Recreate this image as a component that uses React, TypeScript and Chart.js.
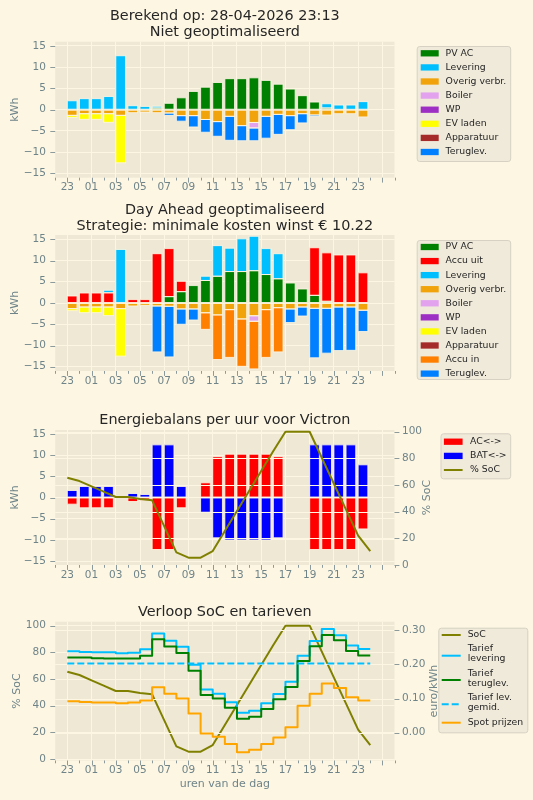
import { useEffect, useRef } from 'react';
import { Chart, registerables } from 'chart.js';

Chart.register(...registerables);

const FONT = "'DejaVu Sans', 'Liberation Sans', sans-serif";
const FIG_BG = '#fdf6e3';
const AXES_BG = '#eee8d5';
const GRID = '#fdf6e3';
const TICK_TEXT = '#6f8489';
const TICK_MARK = '#8d9a9b';
const DARK_TEXT = '#262626';
const LEGEND_BG = '#f0eada';
const LEGEND_EDGE = '#d6d1c3';
const WIDTH = 533;

// hour slots: 23:00 the evening before up to and including 23:00
const hours = ['23', '00', '01', '02', '03', '04', '05', '06', '07', '08', '09', '10', '11', '12', '13', '14', '15', '16', '17', '18', '19', '20', '21', '22', '23'];

// ---- Niet geoptimaliseerd (kWh per uur)
const pvAcBase = [0, 0, 0, 0, 0, 0, 0, 0.4, 1.5, 2.8, 4.3, 5.3, 6.4, 7.3, 7.3, 7.5, 6.9, 6.0, 4.85, 3.3, 1.8, 0.4, 0.1, 0.1, 0];
const leveringBase = [2.1, 2.6, 2.6, 3.1, 12.7, 0.94, 0.78, 0.4, 0, 0, 0, 0, 0, 0, 0, 0, 0, 0, 0, 0, 0, 1.0, 1.0, 1.0, 1.9];
const teruglevBase = [0, 0, 0, 0, 0, 0, 0, 0, -0.55, -1.3, -2.66, -3.0, -3.45, -5.64, -3.55, -3.0, -5.14, -4.7, -3.3, -2.16, -0.35, 0, 0, 0, 0];

// consumption (same in both scenarios)
const overigVerbr = [-1.33, -0.94, -0.94, -0.94, -1.33, -0.7, -0.55, -0.7, -0.78, -1.4, -1.4, -2.3, -2.8, -1.56, -3.75, -3.0, -1.56, -1.1, -1.4, -0.94, -1.25, -1.25, -0.94, -0.94, -1.7];
const boiler = [0, 0, 0, 0, 0, 0, 0, 0, 0, 0, 0, 0, 0, 0, 0, -1.3, 0, 0, 0, 0, 0, 0, 0, 0, 0];
const wp = [0, 0, 0, 0, 0, 0, 0, 0, 0, 0, 0, 0, 0, 0, 0, 0, 0, 0, 0, 0, 0, 0, 0, 0, 0];
const evLaden = [-0.47, -1.33, -1.33, -2.03, -11.17, 0, 0, 0, 0, 0, 0, 0, 0, 0, 0, 0, 0, 0, 0, 0, 0, 0, 0, 0, 0];
const apparatuur = [0, 0, 0, 0, 0, 0, 0, 0, 0, 0, 0, 0, 0, 0, 0, 0, 0, 0, 0, 0, 0, 0, 0, 0, 0];

// ---- Day Ahead geoptimaliseerd (kWh per uur)
const pvAcOpt = [0, 0, 0, 0, 0, 0, 0, 0.1, 1.5, 2.67, 4.1, 5.3, 6.3, 7.4, 7.4, 7.6, 6.7, 5.7, 4.7, 3.3, 1.8, 0.4, 0, 0, 0];
const accuUit = [1.65, 2.35, 2.35, 2.4, 0, 0.8, 0.8, 11.5, 11.3, 2.43, 0, 0, 0, 0, 0, 0, 0, 0, 0, 0, 11.2, 11.4, 11.3, 11.3, 7.1];
const leveringOpt = [0, 0, 0, 0.6, 12.6, 0, 0, 0, 0, 0, 0, 1.0, 7.2, 5.5, 7.7, 8.1, 6.1, 5.9, 0, 0, 0, 0, 0, 0, 0];
const accuIn = [0, 0, 0, 0, 0, 0, 0, 0, 0, 0, 0, -3.9, -10.5, -11.24, -11.15, -11.2, -11.24, -10.4, 0, 0, 0, 0, 0, 0, 0];
const teruglevOpt = [0, 0, 0, 0, 0, 0, 0, -10.8, -11.9, -3.6, -2.6, 0, 0, 0, 0, 0, 0, 0, -3.2, -2.12, -11.65, -10.55, -10.26, -10.2, -5.0];

// ---- Energiebalans Victron (kWh per uur) en SoC (%)
const acBalans = [-1.57, -2.43, -2.43, -2.43, 0, -0.94, -0.7, -12.25, -12.25, -2.43, 0, 3.46, 9.6, 10.2, 10.2, 10.2, 10.2, 9.6, 0, 0, -12.25, -12.25, -12.25, -12.25, -7.4];
const batBalans = [1.65, 2.6, 2.6, 2.6, 0, 0.94, 0.7, 12.4, 12.4, 2.6, 0, -3.46, -9.5, -10.0, -10.0, -10.0, -10.0, -9.5, 0, 0, 12.4, 12.4, 12.4, 12.4, 7.7];
const socPct = [65.5, 63, 59, 55, 51, 51, 49.5, 48.5, 29, 9.5, 5.5, 5.5, 10.5, 25.5, 40.5, 55.5, 70.5, 85.5, 100, 100, 100, 80.5, 61, 41.5, 22, 10.5];

// ---- Tarieven (euro/kWh)
const tariefLevering = [0.238, 0.236, 0.235, 0.235, 0.232, 0.234, 0.244, 0.290, 0.269, 0.251, 0.199, 0.126, 0.114, 0.089, 0.058, 0.064, 0.086, 0.113, 0.149, 0.225, 0.268, 0.303, 0.285, 0.255, 0.245];
const tariefTeruglev = [0.220, 0.220, 0.218, 0.217, 0.217, 0.217, 0.225, 0.273, 0.252, 0.233, 0.181, 0.110, 0.100, 0.073, 0.041, 0.047, 0.069, 0.098, 0.134, 0.210, 0.253, 0.286, 0.270, 0.239, 0.226];
const tariefLevGemid = 0.202;
const spotPrijzen = [0.092, 0.090, 0.088, 0.088, 0.086, 0.088, 0.094, 0.133, 0.114, 0.100, 0.056, -0.002, -0.012, -0.033, -0.057, -0.050, -0.033, -0.014, 0.016, 0.079, 0.114, 0.144, 0.131, 0.104, 0.094];

// axis ticks
const kwhTicks = [-15, -10, -5, 0, 5, 10, 15];
const socTicks = [0, 20, 40, 60, 80, 100];
const priceTicks = [0, 0.1, 0.2, 0.3];
const xTicks = Array.from({ length: 29 }, (_, i) => i - 1);

const xTickLabel = (v: number) => (v >= 0 && v < hours.length && v % 2 === 0 ? hours[v] : '');
const kwhFmt = (v: number) => (v < 0 ? '\u2212' + Math.abs(v) : String(v));
const intFmt = (v: number) => String(Math.round(v));
const priceFmt = (v: number) => v.toFixed(2);

// bars start on the hour and are 0.8 h wide: centre them 0.4 h later
const BAR_SHIFT = 0.4;

interface AxisSpec { min: number; max: number; ticks: number[]; fmt: (v: number) => string; label: string; labelX: number; stacked?: boolean }
interface LegendSpec { box: [number, number, number, number]; handleX: number; handleW: number; textX: number; rows: number[]; handleRows?: number[]; lineGap: number }
interface PanelSpec {
  top: number; height: number;
  axes: [number, number, number, number];
  titles: string[]; titleBaselines: number[];
  yLeft: AxisSpec; yRight?: AxisSpec;
  xLabel?: { text: string; y: number };
  legend: LegendSpec;
  overlayBefore?: number;
  type: 'bar' | 'line';
}

const barSet = (label: string, values: number[], color: string) => ({
  type: 'bar', label,
  data: values.map((v, i) => ({ x: i + BAR_SHIFT, y: v })),
  backgroundColor: color, borderWidth: 0,
  barPercentage: 0.8, categoryPercentage: 1, order: 2, yAxisID: 'y',
});

const lineSet = (label: string, points: { x: number; y: number }[], color: string, yAxisID: string, extra: any = {}) => ({
  type: 'line', label, data: points,
  borderColor: color, backgroundColor: color, borderWidth: 2,
  pointRadius: 0, pointHoverRadius: 0, fill: false, tension: 0,
  borderJoinStyle: 'round', yAxisID, ...extra,
});

const toPoints = (values: number[]) => values.map((v, i) => ({ x: i, y: v }));
// post-step series: each value holds for its whole hour
const toSteps = (values: number[]) => [...toPoints(values), { x: values.length, y: values[values.length - 1] }];

function makeDecor(spec: PanelSpec) {
  const cy = (y: number) => y - spec.top;

  const overlay = (chart: any) => {
    const { ctx, chartArea: a } = chart;
    ctx.save();
    ctx.lineWidth = 1;
    ctx.strokeStyle = 'rgba(253,246,227,0.85)';
    chart.data.datasets.forEach((_: any, i: number) => {
      const meta = chart.getDatasetMeta(i);
      if (meta.type !== 'bar') return;
      meta.data.forEach((el: any) => {
        const h = Math.abs(el.base - el.y);
        if (h < 0.3) return;
        ctx.strokeRect(el.x - el.width / 2, Math.min(el.y, el.base), el.width, h);
      });
    });
    if (spec.yRight) {
      const s = chart.scales.y1;
      ctx.strokeStyle = GRID;
      spec.yRight.ticks.forEach((v) => {
        const py = Math.round(s.getPixelForValue(v)) + 0.5;
        ctx.beginPath();
        ctx.moveTo(a.left, py);
        ctx.lineTo(a.right, py);
        ctx.stroke();
      });
    }
    ctx.restore();
  };

  return {
    id: 'decor',
    beforeDraw(chart: any) {
      const { ctx, chartArea: a } = chart;
      ctx.save();
      ctx.fillStyle = AXES_BG;
      ctx.fillRect(a.left, a.top, a.right - a.left, a.bottom - a.top);
      ctx.restore();
    },
    beforeDatasetDraw(chart: any, args: any) {
      if (spec.overlayBefore !== undefined && args.index === spec.overlayBefore) overlay(chart);
    },
    afterDatasetsDraw(chart: any) {
      if (spec.overlayBefore === undefined) overlay(chart);
    },
    afterDraw(chart: any) {
      const { ctx, chartArea: a } = chart;
      const xs = chart.scales.x;
      const ys = chart.scales.y;
      ctx.save();

      // tick marks
      ctx.strokeStyle = TICK_MARK;
      ctx.lineWidth = 1;
      const seg = (x1: number, y1: number, x2: number, y2: number) => {
        ctx.beginPath(); ctx.moveTo(x1, y1); ctx.lineTo(x2, y2); ctx.stroke();
      };
      xTicks.forEach((v) => {
        const px = Math.round(xs.getPixelForValue(v)) + 0.5;
        seg(px, a.bottom, px, a.bottom + (v % 2 === 0 ? 4.9 : 2.8));
      });
      spec.yLeft.ticks.forEach((v) => {
        const py = Math.round(ys.getPixelForValue(v)) + 0.5;
        seg(a.left - 4.9, py, a.left, py);
      });
      if (spec.yRight) {
        const s = chart.scales.y1;
        spec.yRight.ticks.forEach((v) => {
          const py = Math.round(s.getPixelForValue(v)) + 0.5;
          seg(a.right, py, a.right + 4.9, py);
        });
      }

      // titles
      const cx = (a.left + a.right) / 2;
      ctx.fillStyle = DARK_TEXT;
      ctx.font = `14.4px ${FONT}`;
      ctx.textAlign = 'center';
      ctx.textBaseline = 'alphabetic';
      spec.titles.forEach((t, i) => ctx.fillText(t, cx, cy(spec.titleBaselines[i])));

      // axis labels
      ctx.fillStyle = TICK_TEXT;
      ctx.font = `11px ${FONT}`;
      const vlabel = (text: string, x: number) => {
        ctx.save();
        ctx.translate(x, (a.top + a.bottom) / 2);
        ctx.rotate(-Math.PI / 2);
        ctx.textAlign = 'center';
        ctx.textBaseline = 'middle';
        ctx.fillText(text, 0, 0);
        ctx.restore();
      };
      vlabel(spec.yLeft.label, spec.yLeft.labelX);
      if (spec.yRight) vlabel(spec.yRight.label, spec.yRight.labelX);
      if (spec.xLabel) {
        ctx.textAlign = 'center';
        ctx.textBaseline = 'alphabetic';
        ctx.fillText(spec.xLabel.text, cx, cy(spec.xLabel.y));
      }

      // legend
      const lg = spec.legend;
      const [l, t, r, b] = lg.box;
      const rad = 2.5;
      const bx = l + 0.5, by = cy(t) + 0.5, bw = r - l, bh = b - t;
      ctx.beginPath();
      ctx.moveTo(bx + rad, by);
      ctx.lineTo(bx + bw - rad, by);
      ctx.quadraticCurveTo(bx + bw, by, bx + bw, by + rad);
      ctx.lineTo(bx + bw, by + bh - rad);
      ctx.quadraticCurveTo(bx + bw, by + bh, bx + bw - rad, by + bh);
      ctx.lineTo(bx + rad, by + bh);
      ctx.quadraticCurveTo(bx, by + bh, bx, by + bh - rad);
      ctx.lineTo(bx, by + rad);
      ctx.quadraticCurveTo(bx, by, bx + rad, by);
      ctx.closePath();
      ctx.fillStyle = LEGEND_BG;
      ctx.fill();
      ctx.strokeStyle = LEGEND_EDGE;
      ctx.lineWidth = 1;
      ctx.stroke();

      ctx.font = `9.3px ${FONT}`;
      ctx.textAlign = 'left';
      ctx.textBaseline = 'middle';
      chart.data.datasets.forEach((ds: any, i: number) => {
        const ty = lg.rows[i];
        const hy = cy(lg.handleRows ? lg.handleRows[i] : ty);
        if (ds.type === 'line') {
          ctx.save();
          ctx.strokeStyle = ds.borderColor;
          ctx.lineWidth = 2;
          ctx.setLineDash(ds.borderDash || []);
          ctx.beginPath();
          ctx.moveTo(lg.handleX, hy);
          ctx.lineTo(lg.handleX + lg.handleW, hy);
          ctx.stroke();
          ctx.restore();
        } else {
          ctx.fillStyle = ds.backgroundColor;
          ctx.fillRect(lg.handleX, hy - 3.15, lg.handleW, 6.3);
        }
        ctx.fillStyle = DARK_TEXT;
        String(ds.label).split('\n').forEach((line, k) => ctx.fillText(line, lg.textX, cy(ty + k * lg.lineGap)));
      });

      ctx.restore();
    },
  };
}

function buildConfig(spec: PanelSpec, datasets: any[]): any {
  const [axL, axT, axR, axB] = spec.axes;
  const yScale = (ax: AxisSpec, pos: 'left' | 'right') => ({
    type: 'linear', position: pos, min: ax.min, max: ax.max, stacked: !!ax.stacked,
    afterBuildTicks: (s: any) => { s.ticks = ax.ticks.map((v) => ({ value: v })); },
    afterFit: (s: any) => { s.width = pos === 'left' ? axL : WIDTH - axR; },
    grid: pos === 'left'
      ? { display: true, drawOnChartArea: true, drawTicks: false, color: GRID, lineWidth: 1 }
      : { display: false, drawTicks: false },
    border: { display: false },
    ticks: { padding: pos === 'left' ? 9.3 : 7.5, color: TICK_TEXT, font: { family: FONT, size: 10.5 }, callback: (v: any) => ax.fmt(Number(v)) },
  });
  const scales: any = {
    x: {
      type: 'linear', position: 'bottom', min: -1, max: 27, offset: false, stacked: true,
      afterBuildTicks: (s: any) => { s.ticks = xTicks.map((v) => ({ value: v })); },
      afterFit: (s: any) => { s.height = spec.top + spec.height - axB; },
      grid: {
        offset: false, drawTicks: false, lineWidth: 1,
        color: (c: any) => (c.tick && c.tick.value % 2 === 0 ? GRID : 'rgba(0,0,0,0)'),
      },
      border: { display: false },
      ticks: {
        autoSkip: false, maxRotation: 0, minRotation: 0, padding: 3.5,
        color: TICK_TEXT, font: { family: FONT, size: 10.5 },
        callback: (v: any) => xTickLabel(Number(v)),
      },
    },
    y: yScale(spec.yLeft, 'left'),
  };
  if (spec.yRight) scales.y1 = yScale(spec.yRight, 'right');

  return {
    type: spec.type,
    data: { datasets },
    options: {
      responsive: false, maintainAspectRatio: false, animation: false, devicePixelRatio: 1,
      events: [],
      layout: { padding: { top: axT - spec.top, left: 0, right: spec.yRight ? 0 : WIDTH - axR, bottom: 0 } },
      plugins: { legend: { display: false }, title: { display: false }, tooltip: { enabled: false } },
      scales,
    },
    plugins: [makeDecor(spec)],
  };
}

const AX_L = 55.2;
const AX_R = 394.5;

const panel1: PanelSpec = {
  type: 'bar', top: 0, height: 200, axes: [AX_L, 41.7, AX_R, 177.7],
  titles: ['Berekend op: 28-04-2026 23:13', 'Niet geoptimaliseerd'], titleBaselines: [20.3, 36.3],
  yLeft: { min: -16, max: 16, ticks: kwhTicks, fmt: kwhFmt, label: 'kWh', labelX: 15.3, stacked: true },
  legend: { box: [416.7, 46, 510.2, 161], handleX: 420.7, handleW: 18, textX: 445.6, rows: [0, 1, 2, 3, 4, 5, 6, 7].map((i) => 53.3 + 14.1 * i), lineGap: 10 },
};

const panel2: PanelSpec = {
  type: 'bar', top: 195, height: 195, axes: [AX_L, 235, AX_R, 371],
  titles: ['Day Ahead geoptimaliseerd', 'Strategie: minimale kosten winst € 10.22'], titleBaselines: [213.7, 229.7],
  yLeft: { min: -16, max: 16, ticks: kwhTicks, fmt: kwhFmt, label: 'kWh', labelX: 15.3, stacked: true },
  legend: { box: [416.7, 240, 510.2, 379], handleX: 420.7, handleW: 18, textX: 445.6, rows: [0, 1, 2, 3, 4, 5, 6, 7, 8, 9].map((i) => 247 + 14.07 * i), lineGap: 10 },
};

const panel3: PanelSpec = {
  type: 'bar', top: 395, height: 190, axes: [AX_L, 430, AX_R, 565],
  titles: ['Energiebalans per uur voor Victron'], titleBaselines: [423.5],
  yLeft: { min: -15.9, max: 15.9, ticks: kwhTicks, fmt: kwhFmt, label: 'kWh', labelX: 15.3, stacked: true },
  yRight: { min: 0, max: 101.3, ticks: socTicks, fmt: intFmt, label: '% SoC', labelX: 427 },
  legend: { box: [440.5, 433.3, 510.2, 478.3], handleX: 443.9, handleW: 18.7, textX: 470, rows: [441.7, 455.9, 470], lineGap: 10 },
  overlayBefore: 2,
};

const panel4: PanelSpec = {
  type: 'line', top: 590, height: 210, axes: [AX_L, 621.7, AX_R, 760.5],
  titles: ['Verloop SoC en tarieven'], titleBaselines: [616.3],
  yLeft: { min: -1.1, max: 103, ticks: socTicks, fmt: intFmt, label: '% SoC', labelX: 17 },
  yRight: { min: -0.0813, max: 0.3246, ticks: priceTicks, fmt: priceFmt, label: 'euro/kWh', labelX: 434 },
  xLabel: { text: 'uren van de dag', y: 787 },
  legend: {
    box: [438.3, 627.7, 527.3, 732.3], handleX: 441.7, handleW: 19, textX: 467.7,
    rows: [635, 648.3, 673.3, 697.7, 722.7], handleRows: [635, 655.7, 680, 704.3, 722.7], lineGap: 10,
  },
  overlayBefore: 1,
};

const datasets1 = [
  barSet('PV AC', pvAcBase, '#008000'),
  barSet('Levering', leveringBase, '#00bfff'),
  barSet('Overig verbr.', overigVerbr, '#f0a30a'),
  barSet('Boiler', boiler, '#e2a2ee'),
  barSet('WP', wp, '#9d2fc4'),
  barSet('EV laden', evLaden, '#ffff00'),
  barSet('Apparatuur', apparatuur, '#a52a2a'),
  barSet('Teruglev.', teruglevBase, '#0080ff'),
];

const datasets2 = [
  barSet('PV AC', pvAcOpt, '#008000'),
  barSet('Accu uit', accuUit, '#ff0000'),
  barSet('Levering', leveringOpt, '#00bfff'),
  barSet('Overig verbr.', overigVerbr, '#f0a30a'),
  barSet('Boiler', boiler, '#e2a2ee'),
  barSet('WP', wp, '#9d2fc4'),
  barSet('EV laden', evLaden, '#ffff00'),
  barSet('Apparatuur', apparatuur, '#a52a2a'),
  barSet('Accu in', accuIn, '#ff8000'),
  barSet('Teruglev.', teruglevOpt, '#0080ff'),
];

const datasets3 = [
  barSet('AC<->', acBalans, '#ff0000'),
  barSet('BAT<->', batBalans, '#0000ff'),
  lineSet('% SoC', toPoints(socPct), '#808000', 'y1', { order: 1 }),
];

const datasets4 = [
  lineSet('SoC', toPoints(socPct), '#808000', 'y', { order: 5 }),
  lineSet('Tarief\nlevering', toSteps(tariefLevering), '#00bfff', 'y1', { order: 4, stepped: 'before' }),
  lineSet('Tarief\nteruglev.', toSteps(tariefTeruglev), '#008000', 'y1', { order: 3, stepped: 'before' }),
  lineSet('Tarief lev.\ngemid.', [{ x: 0, y: tariefLevGemid }, { x: hours.length, y: tariefLevGemid }], '#00bfff', 'y1', { order: 2, borderDash: [7, 3], borderCapStyle: 'butt' }),
  lineSet('Spot prijzen', toSteps(spotPrijzen), '#ffa500', 'y1', { order: 1, stepped: 'before' }),
];

function Panel({ spec, datasets }: { spec: PanelSpec; datasets: any[] }) {
  const ref = useRef<HTMLCanvasElement>(null);
  useEffect(() => {
    const chart = new Chart(ref.current as HTMLCanvasElement, buildConfig(spec, datasets));
    return () => chart.destroy();
  }, [spec, datasets]);
  return (
    <canvas
      ref={ref}
      width={WIDTH}
      height={spec.height}
      style={{ position: 'absolute', left: 0, top: spec.top, width: WIDTH, height: spec.height }}
    />
  );
}

export default function App() {
  return (
    <div style={{ position: 'absolute', left: 0, top: 0, width: WIDTH, height: 800, background: FIG_BG, overflow: 'hidden' }}>
      <Panel spec={panel1} datasets={datasets1} />
      <Panel spec={panel2} datasets={datasets2} />
      <Panel spec={panel3} datasets={datasets3} />
      <Panel spec={panel4} datasets={datasets4} />
    </div>
  );
}
